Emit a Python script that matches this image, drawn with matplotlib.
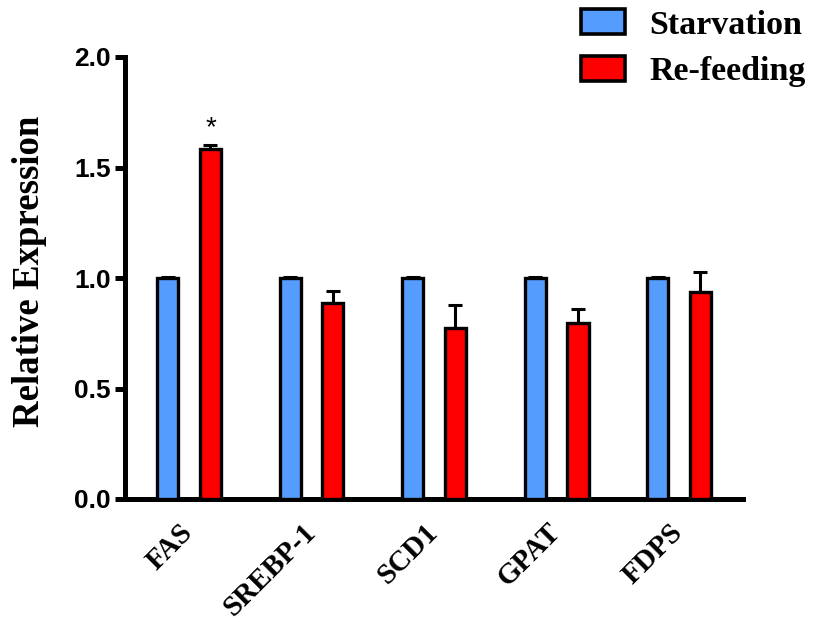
import matplotlib
matplotlib.use("Agg")
import matplotlib.pyplot as plt
import numpy as np
from matplotlib.patches import Patch

genes = ["FAS", "SREBP-1", "SCD1", "GPAT", "FDPS"]
starvation = [1.0, 1.0, 1.0, 1.0, 1.0]
starvation_err = [0.004, 0.004, 0.004, 0.004, 0.004]
refeeding = [1.585, 0.887, 0.776, 0.796, 0.937]
refeeding_err = [0.015, 0.055, 0.10, 0.063, 0.09]
yticks = [0.0, 0.5, 1.0, 1.5, 2.0]

blue = "#559CFF"
red = "#FF0000"

fig = plt.figure(figsize=(8.18, 6.35), dpi=100)
ax = fig.add_axes([125 / 818, 1 - 499 / 635, (743 - 125) / 818, (499 - 57) / 635])

x = np.arange(len(genes))
off = 0.175
w = 0.172
edge_lw = 2.4

ax.bar(x - off, starvation, w, color=blue, edgecolor="black", linewidth=edge_lw, zorder=3)
ax.bar(x + off, refeeding, w, color=red, edgecolor="black", linewidth=edge_lw, zorder=3)
ax.errorbar(x - off, starvation, yerr=[np.zeros(5), starvation_err], fmt="none",
            ecolor="black", elinewidth=2.2, capsize=4.7, capthick=2.2, zorder=2)
ax.errorbar(x + off, refeeding, yerr=[np.zeros(5), refeeding_err], fmt="none",
            ecolor="black", elinewidth=2.2, capsize=4.7, capthick=2.2, zorder=2)

# significance marker
ax.text(x[0] + off, refeeding[0] + refeeding_err[0] + 0.08, "*", ha="center", va="center",
        fontsize=20, fontfamily="Liberation Sans", color="black")

ax.set_xlim(-0.522, 4.522)
ax.set_ylim(0, 2.0)

for s in ["top", "right"]:
    ax.spines[s].set_visible(False)
for s in ["left", "bottom"]:
    ax.spines[s].set_linewidth(3.6)

ax.set_yticks(yticks)
ax.set_yticklabels([f"{v:.1f}" for v in yticks], fontfamily="Liberation Sans",
                   fontweight="bold", fontsize=19)
ax.tick_params(axis="y", direction="out", length=7, width=3.6, pad=3)

ax.set_xticks(x)
ax.set_xticklabels(genes, rotation=45, ha="right", va="center", rotation_mode="anchor",
                   fontfamily="Liberation Serif", fontweight="bold", fontsize=21)
ax.tick_params(axis="x", length=0, pad=21)

ax.set_ylabel("Relative Expression", fontfamily="Liberation Serif", fontweight="bold",
              fontsize=26.5, labelpad=20)
ax.yaxis.label.set_y(0.515)

handles = [Patch(facecolor=blue, edgecolor="black", linewidth=2.6, label="Starvation"),
           Patch(facecolor=red, edgecolor="black", linewidth=2.6, label="Re-feeding")]
fig.legend(handles=handles, loc="upper left", bbox_to_anchor=(554 / 818, 1 + 18 / 635),
           frameon=False, prop={"family": "Liberation Serif", "weight": "bold", "size": 24.5},
           handlelength=1.3, handleheight=0.75, handletextpad=0.7, labelspacing=0.45,
           borderpad=0.3)

fig.savefig("out.png", dpi=100)
